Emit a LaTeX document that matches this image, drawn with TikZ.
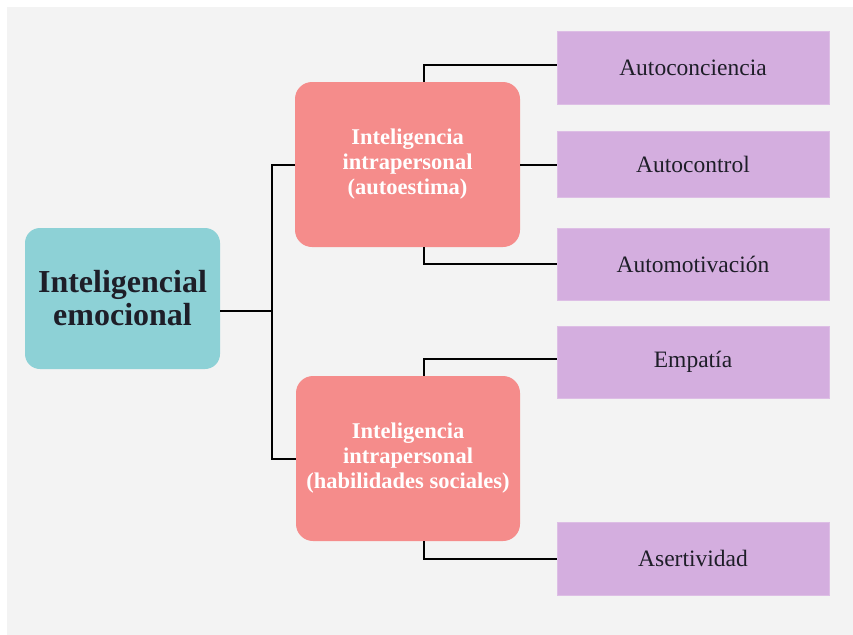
\documentclass[tikz,border=0pt]{standalone}
\usepackage{fontspec}
\setmainfont{Liberation Serif}
\definecolor{bggray}{HTML}{F3F3F3}
\definecolor{rootcol}{HTML}{8DD1D6}
\definecolor{pinkcol}{HTML}{F58C8B}
\definecolor{purpcol}{HTML}{D4AEDF}
\definecolor{txtdark}{HTML}{1E1E28}
\tikzset{
  rootbox/.style={fill=rootcol, rounded corners=15pt, inner sep=0pt, align=center,
    text=txtdark, font=\fontsize{32}{33}\selectfont\bfseries},
  pinkbox/.style={fill=pinkcol, rounded corners=17pt, inner sep=0pt, align=center,
    text=white, font=\fontsize{22.5}{25}\selectfont\bfseries},
  leafbox/.style={fill=purpcol, draw=purpcol!80!white, line width=0.6pt, inner sep=0pt,
    minimum width=272pt, align=center, text=txtdark, font=\fontsize{23.5}{25}\selectfont},
  conn/.style={line width=2pt, black}
}
\begin{document}
\begin{tikzpicture}[x=1pt,y=-1pt]
\useasboundingbox (0,0) rectangle (853,634);
\fill[white] (-5,-5) rectangle (860,640);
\fill[bggray] (7,7) rectangle (860,640);

\node[rootbox, minimum width=195pt, minimum height=141pt] (root) at (122.5,298.5) {Inteligencial\\emocional};
\node[pinkbox, minimum width=225pt, minimum height=165pt] (ia) at (407.5,164.5) {Inteligencia\\intrapersonal\\(autoestima)};
\node[pinkbox, minimum width=224pt, minimum height=165pt] (ib) at (408,458.5) {Inteligencia\\intrapersonal\\(habilidades sociales)};

\node[leafbox, minimum height=73pt] (a1) at (693,67.5) {Autoconciencia};
\node[leafbox, minimum height=66pt] (a2) at (693,164) {Autocontrol};
\node[leafbox, minimum height=72pt] (a3) at (693,264) {Automotivación};
\node[leafbox, minimum height=72pt] (a4) at (693,362) {Empatía};
\node[leafbox, minimum height=73pt] (a5) at (693,558.5) {Asertividad};

\coordinate (j) at (272,311);
\coordinate (t1) at (424,65);
\coordinate (b1) at (424,264);
\coordinate (t2) at (424,359);
\coordinate (b2) at (424,559);

\draw[conn] (root.east |- j) -- (j);
\draw[conn] (ia.west) -- (j |- ia.west) -- (j |- ib.west) -- (ib.west);
\draw[conn] (ia.north -| t1) -- (t1) -- (t1 -| a1.west);
\draw[conn] (ia.east) -- (ia.east -| a2.west);
\draw[conn] (ia.south -| b1) -- (b1) -- (b1 -| a3.west);
\draw[conn] (ib.north -| t2) -- (t2) -- (t2 -| a4.west);
\draw[conn] (ib.south -| b2) -- (b2) -- (b2 -| a5.west);
\end{tikzpicture}
\end{document}
